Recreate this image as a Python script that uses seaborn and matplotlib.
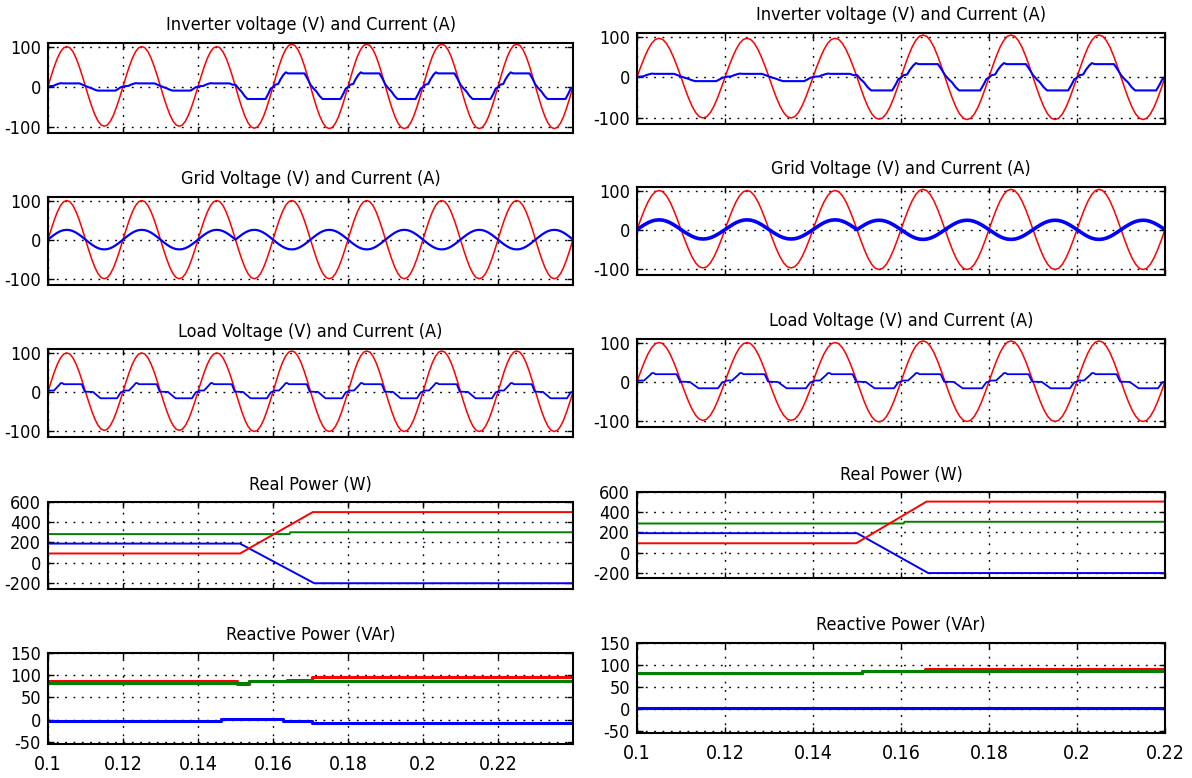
import numpy as np
import pandas as pd
import matplotlib
matplotlib.use("Agg")
import matplotlib.pyplot as plt
import seaborn as sns
from matplotlib import font_manager

# ---------------- data ----------------
T_START = 0.1
PERIOD = 0.02
LEFT_T_END = 0.24
RIGHT_T_END = 0.22
X_TICKS = [0.1, 0.12, 0.14, 0.16, 0.18, 0.2, 0.22]
X_TICK_LABELS = ["0.1", "0.12", "0.14", "0.16", "0.18", "0.2", "0.22"]

TITLES = ["Inverter voltage (V) and Current (A)",
          "Grid Voltage (V) and Current (A)",
          "Load Voltage (V) and Current (A)",
          "Real Power (W)",
          "Reactive Power (VAr)"]

V_TICKS = [-100, 0, 100]
P_TICKS = [-200, 0, 200, 400, 600]
Q_TICKS = [-50, 0, 50, 100, 150]

# one-cycle waveform shapes (phase within a cycle, normalised value)
SINE_PHASE = [0.0, 0.0417, 0.0833, 0.125, 0.1667, 0.2083, 0.25, 0.2917,
              0.3333, 0.375, 0.4167, 0.4583, 0.5, 0.5417, 0.5833, 0.625,
              0.6667, 0.7083, 0.75, 0.7917, 0.8333, 0.875, 0.9167, 0.9583]
SINE_VALUE = [0.0, 0.26, 0.5, 0.71, 0.87, 0.97, 1.0, 0.97,
              0.87, 0.71, 0.5, 0.26, 0.0, -0.26, -0.5, -0.71,
              -0.87, -0.97, -1.0, -0.97, -0.87, -0.71, -0.5, -0.26]

INV_I_PHASE = [0.0, 0.03, 0.07, 0.10, 0.14, 0.17, 0.20, 0.42, 0.46, 0.50,
               0.54, 0.58, 0.62, 0.66, 0.90, 0.94, 0.97]
INV_I_VALUE = [-0.05, 0.15, 0.2, 0.55, 0.9, 1.08, 1.0, 1.0, 0.6, 0.15,
               -0.15, -0.4, -0.75, -1.0, -1.0, -0.55, -0.15]

LOAD_I_PHASE = [0.0, 0.02, 0.08, 0.15, 0.17, 0.19, 0.21, 0.45, 0.49,
                0.60, 0.70, 0.92, 0.97]
LOAD_I_VALUE = [0.0, 0.15, 0.15, 0.9, 1.15, 1.15, 1.0, 1.0, 0.0,
                -0.05, -1.0, -1.0, -0.1]

# amplitudes per half cycle
L_INV_V = [100, 99, 100, 99, 100, 104, 106, 105, 106, 105, 106, 105, 106, 105]
L_INV_I = [8, 10, 8, 10, 8, 31, 33, 31, 33, 31, 33, 31, 33, 31]
L_GRID_V = [100, 100, 100, 100, 100, 100, 100, 100, 100, 100, 100, 100, 100, 100]
L_GRID_I = [25, 25, 25, 25, 25, -25, -25, -25, -25, -25, -25, -25, -25, -25]
L_LOAD_V = [99, 99, 99, 99, 99, 102, 104, 102, 104, 102, 104, 102, 104, 102]
L_LOAD_I = [19, 17, 19, 17, 19, 17, 19, 17, 19, 17, 19, 17, 19, 17]

R_INV_V = [96, 101, 96, 101, 96, 104, 104, 105, 104, 105, 104, 105]
R_INV_I = [8, 10, 8, 10, 8, 33, 32, 33, 32, 33, 32, 33]
R_GRID_V = [100, 98, 100, 98, 100, 102, 103, 102, 103, 102, 103, 102]
R_GRID_I = [25, 24, 25, 24, 25, -24, -25, -24, -25, -24, -25, -24]
R_LOAD_V = [100, 99, 100, 99, 100, 103, 104, 102, 104, 102, 104, 102]
R_LOAD_I = [19, 17, 19, 17, 19, 17, 19, 17, 19, 17, 19, 17]

# real power (W) breakpoints
L_P_RED_T = [0.10, 0.1512, 0.1706, 0.24]
L_P_RED = [90, 90, 500, 500]
L_P_GREEN_T = [0.10, 0.1644, 0.1646, 0.24]
L_P_GREEN = [282, 282, 300, 300]
L_P_BLUE_T = [0.10, 0.1512, 0.1710, 0.24]
L_P_BLUE = [188, 188, -205, -205]

R_P_RED_T = [0.10, 0.1498, 0.1658, 0.22]
R_P_RED = [92, 92, 505, 505]
R_P_GREEN_T = [0.10, 0.1606, 0.1608, 0.22]
R_P_GREEN = [288, 288, 305, 305]
R_P_BLUE_T = [0.10, 0.1500, 0.1662, 0.22]
R_P_BLUE = [192, 192, -203, -203]

# reactive power (VAr) breakpoints
L_Q_RED_T = [0.10, 0.1504, 0.1504, 0.1535, 0.1535, 0.1637, 0.1637, 0.1705, 0.1705, 0.24]
L_Q_RED = [86, 86, 80, 80, 87, 87, 90, 90, 95, 95]
L_Q_GREEN_T = [0.10, 0.1535, 0.1535, 0.24]
L_Q_GREEN = [82, 82, 87, 87]
L_Q_BLUE_T = [0.10, 0.1461, 0.1461, 0.1626, 0.1626, 0.1705, 0.1705, 0.24]
L_Q_BLUE = [-4, -4, 2, 2, -4, -4, -8, -8]

R_Q_RED_T = [0.10, 0.1511, 0.1511, 0.1654, 0.1654, 0.22]
R_Q_RED = [81, 81, 87, 87, 91, 91]
R_Q_GREEN_T = [0.10, 0.1511, 0.1511, 0.22]
R_Q_GREEN = [81, 81, 87, 87]
R_Q_BLUE_T = [0.10, 0.22]
R_Q_BLUE = [1, 1]

RED = "#ff0000"
GREEN = "#008000"
BLUE = "#0000ff"

# ---------------- style ----------------
sns.set_theme(style="white")
names = {f.name for f in font_manager.fontManager.ttflist}
FONT = "Liberation Sans"
STRETCH = "normal"
if "Liberation Sans Narrow" in names:
    FONT = "Liberation Sans Narrow"
elif any(f.name == "DejaVu Sans" and str(f.stretch) in ("condensed", "semi-condensed")
         for f in font_manager.fontManager.ttflist):
    FONT = "DejaVu Sans"
    STRETCH = "condensed"
plt.rcParams["font.family"] = [FONT, "DejaVu Sans"]
plt.rcParams["font.stretch"] = STRETCH

TITLE_SIZE = 13
YTICK_SIZE = 13
XTICK_SIZE = 14


def build_wave(phase, value, half_amps, t_end):
    t, y = [], []
    n_cycles = len(half_amps) // 2
    for k in range(n_cycles):
        for p, v in zip(phase, value):
            amp = half_amps[2 * k + (1 if p >= 0.5 else 0)]
            t.append(T_START + (k + p) * PERIOD)
            y.append(v * amp)
    t.append(t_end)
    y.append(value[0] * half_amps[-1])
    return t, y


W, H = 1192, 778
fig = plt.figure(figsize=(W / 100, H / 100), dpi=100)
fig.patch.set_facecolor("white")

COLS = {"left": (48, 573), "right": (637, 1165)}
ROWS = {"left": [(43, 133), (197, 285), (349, 437), (502, 589), (653, 744)],
        "right": [(33, 124), (187, 275), (339, 427), (492, 578), (643, 733)]}

GRID_LS = (0, (1.3, 4.7))


def make_ax(side, row):
    x0, x1 = COLS[side]
    top, bot = ROWS[side][row]
    ax = fig.add_axes([x0 / W, 1 - bot / H, (x1 - x0) / W, (bot - top) / H])
    ax.set_facecolor("white")
    for s in ax.spines.values():
        s.set_color("black")
        s.set_linewidth(1.5)
        s.set_visible(True)
    ax.tick_params(direction="in", length=4, width=1, colors="black",
                   top=True, right=True, bottom=True, left=True,
                   labelsize=YTICK_SIZE, pad=5)
    ax.tick_params(axis="x", labelsize=XTICK_SIZE, pad=8)
    ax.grid(True, color="black", linestyle=GRID_LS, linewidth=1.0)
    ax.set_title(TITLES[row], fontsize=TITLE_SIZE, pad=9, color="black")
    ax.set_xticks(X_TICKS)
    if row == 4:
        ax.set_xticklabels(X_TICK_LABELS)
    else:
        ax.set_xticklabels([])
    ax.set_xlabel("")
    ax.set_ylabel("")
    return ax


def line(ax, t, y, color, lw):
    sns.lineplot(x=t, y=y, ax=ax, color=color, linewidth=lw,
                 estimator=None, sort=False, legend=False)


panels = {
    "left": dict(t_end=LEFT_T_END,
                 inv=(L_INV_V, L_INV_I), grid=(L_GRID_V, L_GRID_I), load=(L_LOAD_V, L_LOAD_I),
                 p=[(L_P_BLUE_T, L_P_BLUE, BLUE), (L_P_GREEN_T, L_P_GREEN, GREEN), (L_P_RED_T, L_P_RED, RED)],
                 q=[(L_Q_BLUE_T, L_Q_BLUE, BLUE), (L_Q_RED_T, L_Q_RED, RED), (L_Q_GREEN_T, L_Q_GREEN, GREEN)],
                 p_ylim=(-262, 600), grid_lw=1.6),
    "right": dict(t_end=RIGHT_T_END,
                  inv=(R_INV_V, R_INV_I), grid=(R_GRID_V, R_GRID_I), load=(R_LOAD_V, R_LOAD_I),
                  p=[(R_P_BLUE_T, R_P_BLUE, BLUE), (R_P_GREEN_T, R_P_GREEN, GREEN), (R_P_RED_T, R_P_RED, RED)],
                  q=[(R_Q_BLUE_T, R_Q_BLUE, BLUE), (R_Q_RED_T, R_Q_RED, RED), (R_Q_GREEN_T, R_Q_GREEN, GREEN)],
                  p_ylim=(-252, 600), grid_lw=2.6),
}

for side, d in panels.items():
    t_end = d["t_end"]
    # row 0: inverter
    ax = make_ax(side, 0)
    t, y = build_wave(SINE_PHASE, SINE_VALUE, d["inv"][0], t_end)
    line(ax, t, y, RED, 1.1)
    t, y = build_wave(INV_I_PHASE, INV_I_VALUE, d["inv"][1], t_end)
    line(ax, t, y, BLUE, 1.5)
    # row 1: grid
    ax1 = make_ax(side, 1)
    t, y = build_wave(SINE_PHASE, SINE_VALUE, d["grid"][0], t_end)
    line(ax1, t, y, RED, 1.1)
    t, y = build_wave(SINE_PHASE, SINE_VALUE, d["grid"][1], t_end)
    line(ax1, t, y, BLUE, d["grid_lw"])
    # row 2: load
    ax2 = make_ax(side, 2)
    t, y = build_wave(SINE_PHASE, SINE_VALUE, d["load"][0], t_end)
    line(ax2, t, y, RED, 1.1)
    t, y = build_wave(LOAD_I_PHASE, LOAD_I_VALUE, d["load"][1], t_end)
    line(ax2, t, y, BLUE, 1.3)
    for a in (ax, ax1, ax2):
        a.set_ylim(-116, 109)
        a.set_yticks(V_TICKS)
        a.set_yticklabels([str(v) for v in V_TICKS])
    # row 3: real power
    ax3 = make_ax(side, 3)
    for tt, yy, c in d["p"]:
        line(ax3, tt, yy, c, 1.4)
    ax3.set_ylim(*d["p_ylim"])
    ax3.set_yticks(P_TICKS)
    ax3.set_yticklabels([str(v) for v in P_TICKS])
    # row 4: reactive power
    ax4 = make_ax(side, 4)
    for tt, yy, c in d["q"]:
        line(ax4, tt, yy, c, 2.2)
    ax4.set_ylim(-55, 150)
    ax4.set_yticks(Q_TICKS)
    ax4.set_yticklabels([str(v) for v in Q_TICKS])
    for a in (ax, ax1, ax2, ax3, ax4):
        a.set_xlim(T_START, t_end)

fig.savefig("out.png", dpi=100, facecolor="white")
